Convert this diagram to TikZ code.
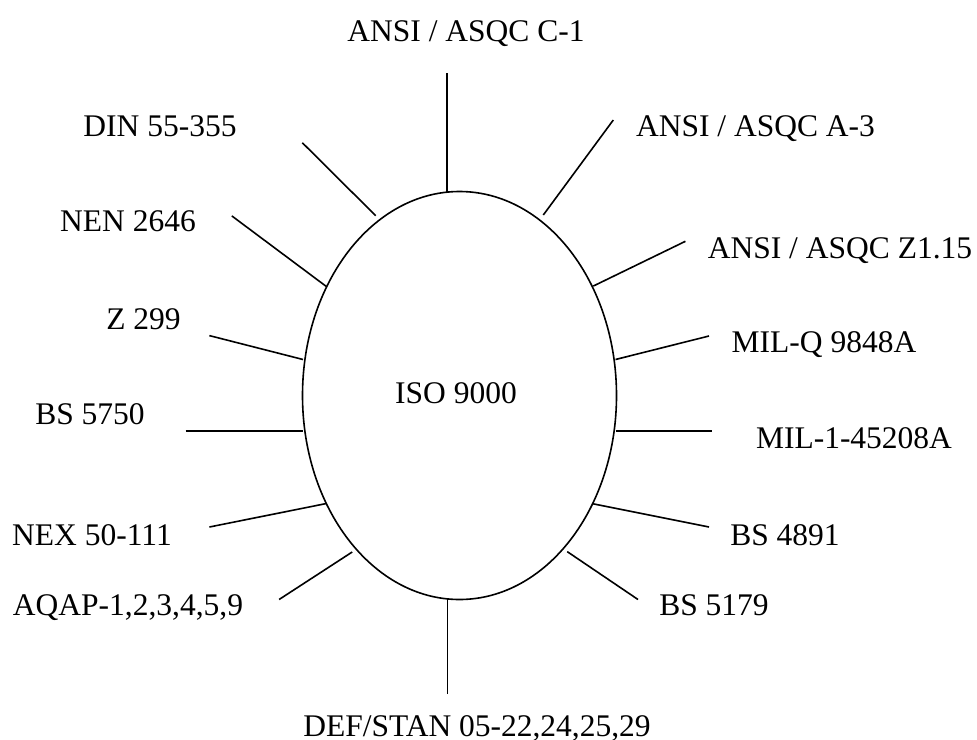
\documentclass[tikz,border=0pt]{standalone}
\usepackage{fontspec}
\setmainfont{Liberation Serif}
\usetikzlibrary{shapes.geometric}
\begin{document}
\begin{tikzpicture}[x=1pt,y=-1pt,
  lbl/.style={anchor=base,inner sep=0pt,font=\fontsize{31.5}{36}\selectfont},
  spoke/.style={line width=1.6pt},
  hub/.style={draw,ellipse,line width=1.6pt,minimum width=314pt,minimum height=408pt,inner sep=0pt,font=\fontsize{31.5}{36}\selectfont}]
\useasboundingbox (0,0) rectangle (977,739);
\node[hub] (iso) at (459.5,395.5) {};
\node[lbl] (isot) at (456,403) {ISO 9000};
% labels
\node[lbl] (c1) at (466,41) {ANSI / ASQC C-1};
\node[lbl] (din) at (160,136.5) {DIN 55-355};
\node[lbl] (a3) at (755.5,136.5) {ANSI / ASQC A-3};
\node[lbl] (nen) at (128,231) {NEN 2646};
\node[lbl] (z115) at (840,258) {ANSI / ASQC Z1.15};
\node[lbl] (z299) at (143.5,329) {Z 299};
\node[lbl] (milq) at (824,352) {MIL-Q 9848A};
\node[lbl] (bs5750) at (90,424) {BS 5750};
\node[lbl] (mil1) at (854,448.5) {MIL-1-45208A};
\node[lbl] (nex) at (92,545) {NEX 50-111};
\node[lbl] (bs4891) at (785,545) {BS 4891};
\node[lbl] (aqap) at (128,615) {AQAP-1,2,3,4,5,9};
\node[lbl] (bs5179) at (714,615) {BS 5179};
\node[lbl] (def) at (477,736) {DEF/STAN 05-22,24,25,29};
% spoke ends
\coordinate (c1o) at (447,73);     \coordinate (c1i) at (447,192);
\coordinate (dino) at (302.3,142.7); \coordinate (dini) at (375.7,215.7);
\coordinate (a3o) at (613.3,120);  \coordinate (a3i) at (543.3,215);
\coordinate (neno) at (231.8,215.9); \coordinate (neni) at (326.5,286.6);
\coordinate (z115o) at (685.4,241.3); \coordinate (z115i) at (593.2,286.1);
\coordinate (z299o) at (209.4,335.6); \coordinate (z299i) at (303,359.5);
\coordinate (milqo) at (709,336);   \coordinate (milqi) at (615.5,359.5);
\coordinate (bs5750o) at (185.7,431); \coordinate (bs5750i) at (302.8,431);
\coordinate (mil1o) at (711.6,431);  \coordinate (mil1i) at (615.6,431);
\coordinate (nexo) at (209.4,527);  \coordinate (nexi) at (326,503.6);
\coordinate (bs4891o) at (709,527); \coordinate (bs4891i) at (592,503.6);
\coordinate (aqapo) at (279.1,599.5); \coordinate (aqapi) at (352.2,552);
\coordinate (bs5179o) at (638,599.5); \coordinate (bs5179i) at (567.2,551.6);
\coordinate (defo) at (447.3,694);  \coordinate (defi) at (447.3,599);
\foreach \s in {c1,din,a3,nen,z115,z299,milq,bs5750,mil1,nex,bs4891,aqap,bs5179,def}
  \draw[spoke] (\s o) -- (\s i);
\end{tikzpicture}
\end{document}
